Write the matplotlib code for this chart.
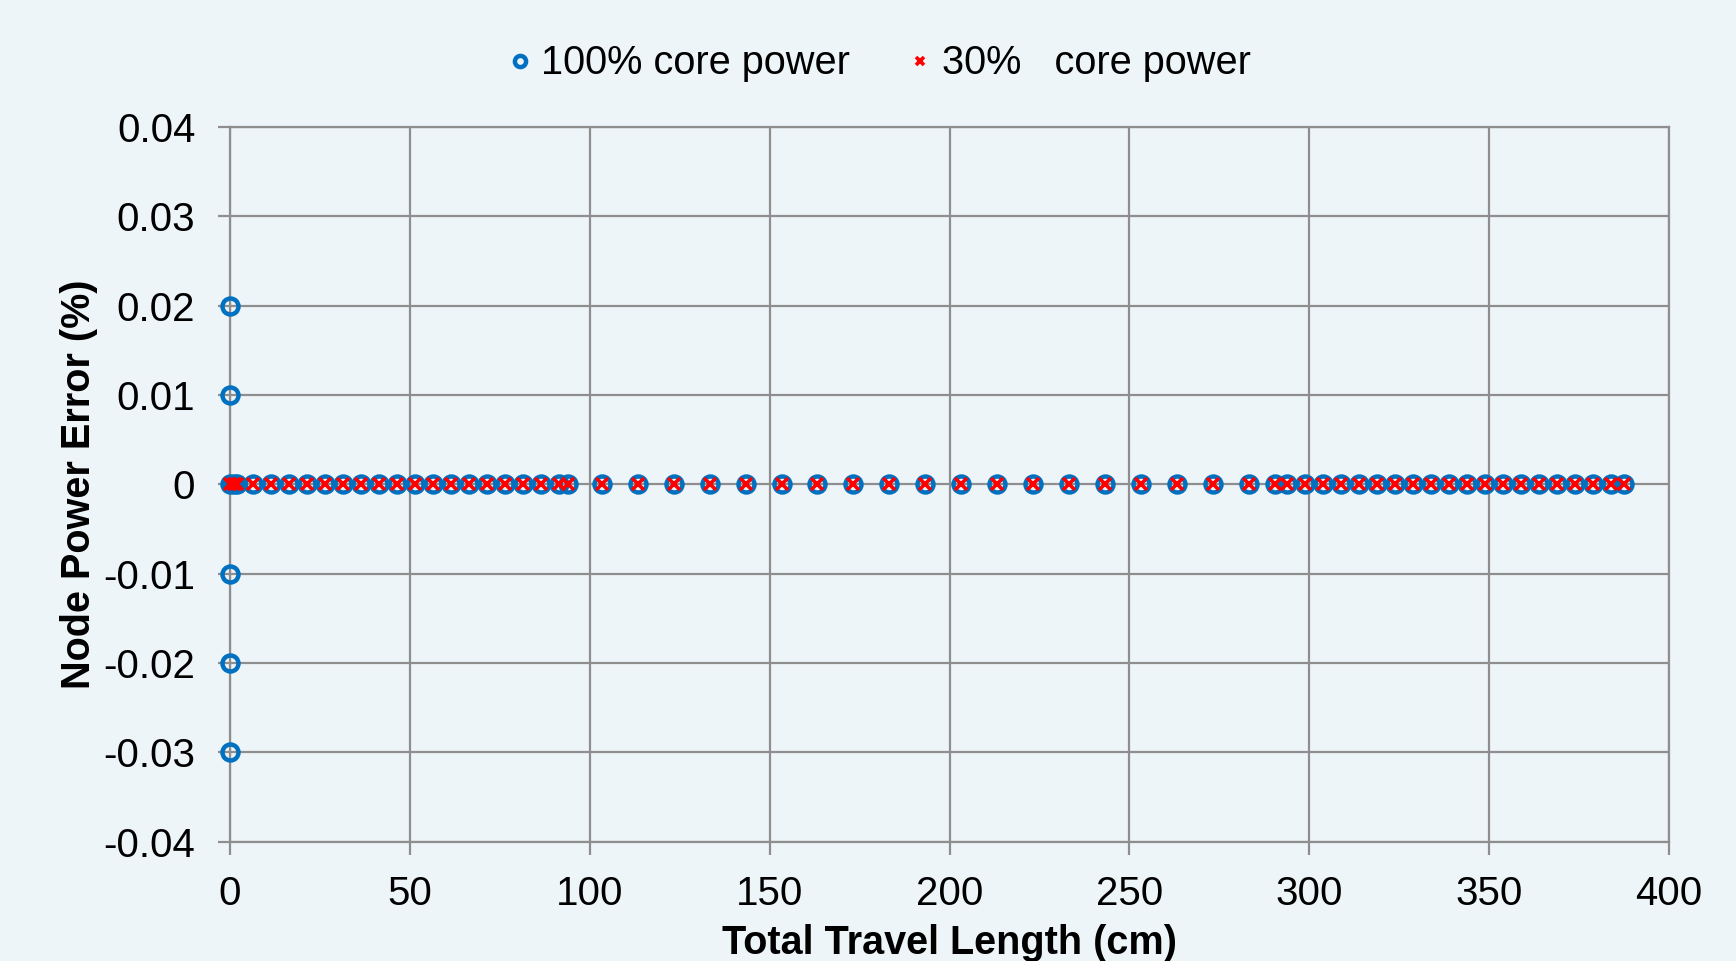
import numpy as np
import matplotlib.pyplot as plt

plt.rcParams["font.family"] = ["Liberation Sans", "DejaVu Sans"]

# ---------------------------------------------------------
# data
# ---------------------------------------------------------

travel_cm = [
    0, 1, 2,
    6.5, 11.5, 16.5, 21.5, 26.5, 31.5, 36.5, 41.5, 46.5,
    51.5, 56.5, 61.5, 66.5, 71.5, 76.5, 81.5, 86.5, 91.5, 94,
    103.3, 113.3, 123.3, 133.3, 143.3, 153.3, 163.3, 173.3, 183.3,
    193.3, 203.3, 213.3, 223.3, 233.3, 243.3, 253.3, 263.3, 273.3,
    283.3, 290.5, 293.7,
    298.9, 303.9, 308.9, 313.9, 318.9, 323.9, 328.9, 333.9, 338.9,
    343.9, 348.9, 353.9, 358.9, 363.9, 368.9, 373.9, 378.9, 383.9, 387.5,
]
err_100 = [0.0] * len(travel_cm)
err_30 = [0.0] * len(travel_cm)

# extra start-up points of the 100% case (all at 0 cm)
start_x = [0, 0, 0, 0, 0]
start_err_100 = [0.02, 0.01, -0.01, -0.02, -0.03]

x_ticks = [0, 50, 100, 150, 200, 250, 300, 350, 400]
y_ticks = [-0.04, -0.03, -0.02, -0.01, 0, 0.01, 0.02, 0.03, 0.04]
y_labels = ["-0.04", "-0.03", "-0.02", "-0.01", "0", "0.01", "0.02", "0.03", "0.04"]

# ---------------------------------------------------------
# plot
# ---------------------------------------------------------

bg = "#EEF5F9"
grid_col = "#8E8E8E"
blue = "#0070C0"
red = "#FF0000"

fig = plt.figure(figsize=(17.36, 9.61), dpi=100, facecolor=bg)
ax = fig.add_axes([0.1325, 0.1241, 0.8289, 0.7437], facecolor=bg)

ax.plot(
    list(start_x) + list(travel_cm),
    list(start_err_100) + list(err_100),
    "o",
    markersize=11.5,
    markerfacecolor="none",
    markeredgecolor=blue,
    markeredgewidth=3.2,
    label="100% core power",
    zorder=3,
    clip_on=False,
)

ax.plot(
    travel_cm,
    err_30,
    "x",
    markersize=8,
    markeredgecolor=red,
    markeredgewidth=2.6,
    label="30%   core power",
    zorder=4,
    clip_on=False,
)

ax.set_xlim(0, 400)
ax.set_ylim(-0.04, 0.04)
ax.set_xticks(x_ticks)
ax.set_yticks(y_ticks)
ax.set_yticklabels(y_labels)

ax.grid(True, color=grid_col, linewidth=1.6)
ax.set_axisbelow(True)

for s in ax.spines.values():
    s.set_color(grid_col)
    s.set_linewidth(1.6)

ax.tick_params(axis="both", labelsize=29, colors=grid_col, labelcolor="black",
               length=9, width=1.6)
ax.tick_params(axis="x", pad=15)
ax.tick_params(axis="y", pad=16)

ax.set_xlabel("Total Travel Length (cm)", fontsize=28.5, fontweight="bold", labelpad=8)
ax.set_ylabel("Node Power Error (%)", fontsize=28.5, fontweight="bold", labelpad=4)

leg = fig.legend(
    loc="center",
    bbox_to_anchor=(0.507, 0.934),
    ncol=2,
    frameon=False,
    fontsize=28.6,
    handlelength=0.5,
    handletextpad=0.3,
    columnspacing=1.5,
    markerscale=0.7,
)

fig.savefig("out.png", dpi=100, facecolor=bg)
